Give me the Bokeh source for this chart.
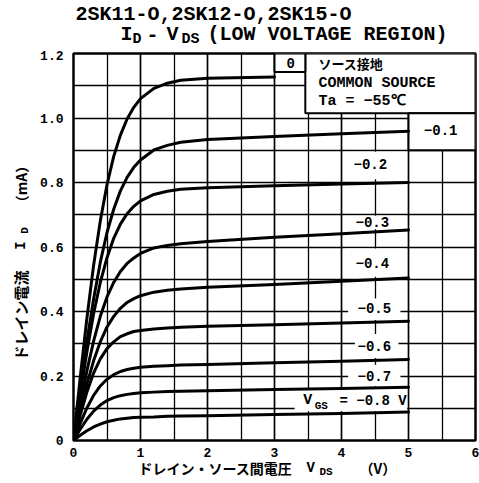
import math
from bokeh.plotting import figure
from bokeh.models import FixedTicker, Label, Range1d
from bokeh.layouts import column, row
from bokeh.embed import file_html
from bokeh.resources import INLINE

# ---------------- data ----------------
VDS = [0, 0.1, 0.2, 0.3, 0.4, 0.5, 0.6, 0.7, 0.8, 0.9, 1.0, 1.2, 1.4, 1.6, 2.0, 3.0, 4.0, 5.0]
VDS_0 = [0, 0.1, 0.2, 0.3, 0.4, 0.5, 0.6, 0.7, 0.8, 0.9, 1.0, 1.2, 1.4, 1.6, 2.0, 3.0]

ID_0 = [0, 0.195, 0.379, 0.543, 0.681, 0.793, 0.881, 0.947, 0.997, 1.033, 1.060, 1.092, 1.108, 1.117, 1.123, 1.127]
ID_M01 = [0, 0.157, 0.307, 0.439, 0.553, 0.645, 0.717, 0.774, 0.816, 0.847, 0.870, 0.901, 0.915, 0.925, 0.933, 0.943, 0.951, 0.959]
ID_M02 = [0, 0.142, 0.275, 0.393, 0.490, 0.567, 0.627, 0.671, 0.703, 0.726, 0.743, 0.763, 0.773, 0.779, 0.784, 0.790, 0.795, 0.800]
ID_M03 = [0, 0.112, 0.216, 0.308, 0.385, 0.445, 0.490, 0.524, 0.549, 0.566, 0.580, 0.597, 0.605, 0.610, 0.617, 0.630, 0.641, 0.653]
ID_M04 = [0, 0.091, 0.175, 0.247, 0.306, 0.352, 0.385, 0.410, 0.428, 0.440, 0.449, 0.460, 0.466, 0.470, 0.475, 0.484, 0.494, 0.504]
ID_M05 = [0, 0.079, 0.150, 0.209, 0.253, 0.285, 0.306, 0.322, 0.331, 0.338, 0.341, 0.346, 0.349, 0.351, 0.354, 0.359, 0.364, 0.370]
ID_M06 = [0, 0.053, 0.101, 0.140, 0.169, 0.190, 0.204, 0.214, 0.220, 0.224, 0.227, 0.230, 0.232, 0.234, 0.236, 0.241, 0.246, 0.251]
ID_M07 = [0, 0.035, 0.066, 0.091, 0.110, 0.124, 0.133, 0.139, 0.143, 0.146, 0.148, 0.150, 0.152, 0.153, 0.154, 0.158, 0.161, 0.165]
ID_M08 = [0, 0.016, 0.030, 0.042, 0.051, 0.058, 0.063, 0.067, 0.069, 0.071, 0.072, 0.073, 0.075, 0.076, 0.077, 0.081, 0.084, 0.088]

VGS_LABELS = ["0", "\u22120.1", "\u22120.2", "\u22120.3", "\u22120.4", "\u22120.5", "\u22120.6", "\u22120.7", "\u22120.8"]

X_TICKS = [0, 1, 2, 3, 4, 5, 6]
X_TICK_LABELS = ["0", "1", "2", "3", "4", "5", "6"]
Y_TICKS = [0, 0.2, 0.4, 0.6, 0.8, 1.0, 1.2]
Y_TICK_LABELS = ["0", "0.2", "0.4", "0.6", "0.8", "1.0", "1.2"]

TITLE_1 = "2SK11-O,2SK12-O,2SK15-O"
TITLE_2 = "(LOW VOLTAGE REGION)"
X_LABEL = "ドレイン・ソース間電圧"
Y_LABEL = "ドレイン電流"

MONO = "Liberation Mono"
CJK = "Noto Sans CJK JP"


def lab(fig, x, y, text, size, font=MONO, align="left", baseline="middle", angle=0, style="bold"):
    fig.add_layout(Label(x=x, y=y, text=text, text_font=font, text_font_size=size,
                         text_font_style=style, text_align=align, text_baseline=baseline,
                         angle=angle, text_color="black"))


def blank(w, h, xr, yr):
    f = figure(width=w, height=h, x_range=xr, y_range=yr, output_backend="svg",
               toolbar_location=None, min_border=0, x_axis_location=None, y_axis_location=None)
    f.grid.visible = False
    f.outline_line_color = None
    f.background_fill_color = "white"
    f.border_fill_color = "white"
    return f


# ---------------- main figure ----------------
p = figure(width=444, height=409, x_range=(0, 6), y_range=(0, 1.2),
           output_backend="svg", toolbar_location=None,
           min_border_left=38, min_border_right=4, min_border_top=3, min_border_bottom=18)
p.background_fill_color = "white"
p.border_fill_color = "white"
p.outline_line_color = "black"
p.outline_line_width = 2.5

p.xgrid.ticker = FixedTicker(ticks=[0, 1, 2, 3, 4, 5, 6], minor_ticks=[0.5, 1.5, 2.5, 3.5, 4.5, 5.5])
p.ygrid.ticker = FixedTicker(ticks=[0, 0.2, 0.4, 0.6, 0.8, 1.0, 1.2],
                             minor_ticks=[0.1, 0.3, 0.5, 0.7, 0.9, 1.1])
for g in (p.xgrid, p.ygrid):
    g.grid_line_color = "black"
    g.grid_line_width = 1.7
    g.minor_grid_line_color = "black"
    g.minor_grid_line_width = 1.3

p.xaxis.ticker = FixedTicker(ticks=X_TICKS)
p.yaxis.ticker = FixedTicker(ticks=Y_TICKS)
p.xaxis.major_label_overrides = {t: l for t, l in zip(X_TICKS, X_TICK_LABELS)}
p.yaxis.major_label_overrides = {t: l for t, l in zip(Y_TICKS, Y_TICK_LABELS)}
for ax in (p.xaxis, p.yaxis):
    ax.axis_line_color = None
    ax.major_tick_line_color = None
    ax.minor_tick_line_color = None
    ax.major_label_text_font = MONO
    ax.major_label_text_font_style = "bold"
    ax.major_label_text_font_size = "13px"
    ax.major_label_text_color = "black"
p.xaxis.major_label_standoff = 1
p.yaxis.major_label_standoff = 4

# white label boxes: (left, right, bottom, top)
plain_boxes = [
    (4.05, 4.95, 0.81, 0.895),
    (4.05, 4.95, 0.655, 0.697),
    (4.05, 4.95, 0.508, 0.595),
    (4.10, 4.88, 0.374, 0.44),
    (4.20, 4.85, 0.256, 0.33),
    (4.10, 4.88, 0.168, 0.235),
    (3.30, 4.98, 0.091, 0.163),
]
p.quad(left=[b[0] for b in plain_boxes], right=[b[1] for b in plain_boxes],
       bottom=[b[2] for b in plain_boxes], top=[b[3] for b in plain_boxes],
       fill_color="white", line_color=None)

framed_boxes = [
    (3.46, 6.0, 1.015, 1.2),
    (3.0, 3.46, 1.143, 1.2),
    (5.0, 6.0, 0.9, 1.015),
]
p.quad(left=[b[0] for b in framed_boxes], right=[b[1] for b in framed_boxes],
       bottom=[b[2] for b in framed_boxes], top=[b[3] for b in framed_boxes],
       fill_color="white", line_color="black", line_width=2)

curves = [(VDS_0, ID_0), (VDS, ID_M01), (VDS, ID_M02), (VDS, ID_M03), (VDS, ID_M04),
          (VDS, ID_M05), (VDS, ID_M06), (VDS, ID_M07), (VDS, ID_M08)]
for xs, ys in curves:
    p.line(xs, ys, line_color="black", line_width=3, line_join="round", line_cap="round")

# box texts
lab(p, 3.24, 1.172, VGS_LABELS[0], "14px", align="center")
lab(p, 3.657, 1.170, "ソース接地", "13px", font=CJK)
lab(p, 3.657, 1.108, "COMMON SOURCE", "15px")
lab(p, 3.657, 1.050, "Ta = \u221255\u2103", "15px")
lab(p, 5.48, 0.963, VGS_LABELS[1], "14px", align="center")

label_pos = [(4.43, 0.858), (4.46, 0.677), (4.46, 0.551), (4.49, 0.412), (4.49, 0.292), (4.49, 0.200)]
for (x, y), t in zip(label_pos, VGS_LABELS[2:8]):
    lab(p, x, y, t, "14px", align="center")

lab(p, 3.43, 0.124, "V", "15px")
lab(p, 3.60, 0.108, "GS", "11px")
lab(p, 3.97, 0.124, "= " + VGS_LABELS[8] + " V", "14px")

# ---------------- title strip (coords = page pixels) ----------------
t = blank(479, 50, Range1d(0, 479), Range1d(50, 0))
lab(t, 75, 14, TITLE_1, "20px")
lab(t, 120, 34, "I", "20px")
lab(t, 132, 39, "D", "15px")
lab(t, 146, 34, "-", "20px")
lab(t, 166, 34, "V", "20px")
lab(t, 181, 39, "DS", "15px")
lab(t, 207, 34, TITLE_2, "20px")

# ---------------- y label strip ----------------
yl = blank(35, 409, Range1d(0, 35), Range1d(459, 50))
A = math.pi / 2
lab(yl, 20, 327, Y_LABEL, "15px", font=CJK, align="center", angle=A)
lab(yl, 20, 253, "I", "14px", align="center", angle=A)
lab(yl, 24, 237, "D", "11px", align="center", angle=A)
lab(yl, 20, 188, "（mA）", "14px", font=CJK, align="center", angle=A)

# ---------------- x label strip ----------------
xl = blank(479, 24, Range1d(0, 479), Range1d(483, 459))
lab(xl, 138, 467, X_LABEL, "14px", font=CJK)
lab(xl, 306, 467, "V", "14px")
lab(xl, 319, 471, "DS", "11px")
lab(xl, 359, 467, "（V）", "14px", font=CJK)

layout = column(t, row(yl, p, spacing=0), xl, spacing=0)
open("out.html", "w").write(file_html(layout, INLINE))
